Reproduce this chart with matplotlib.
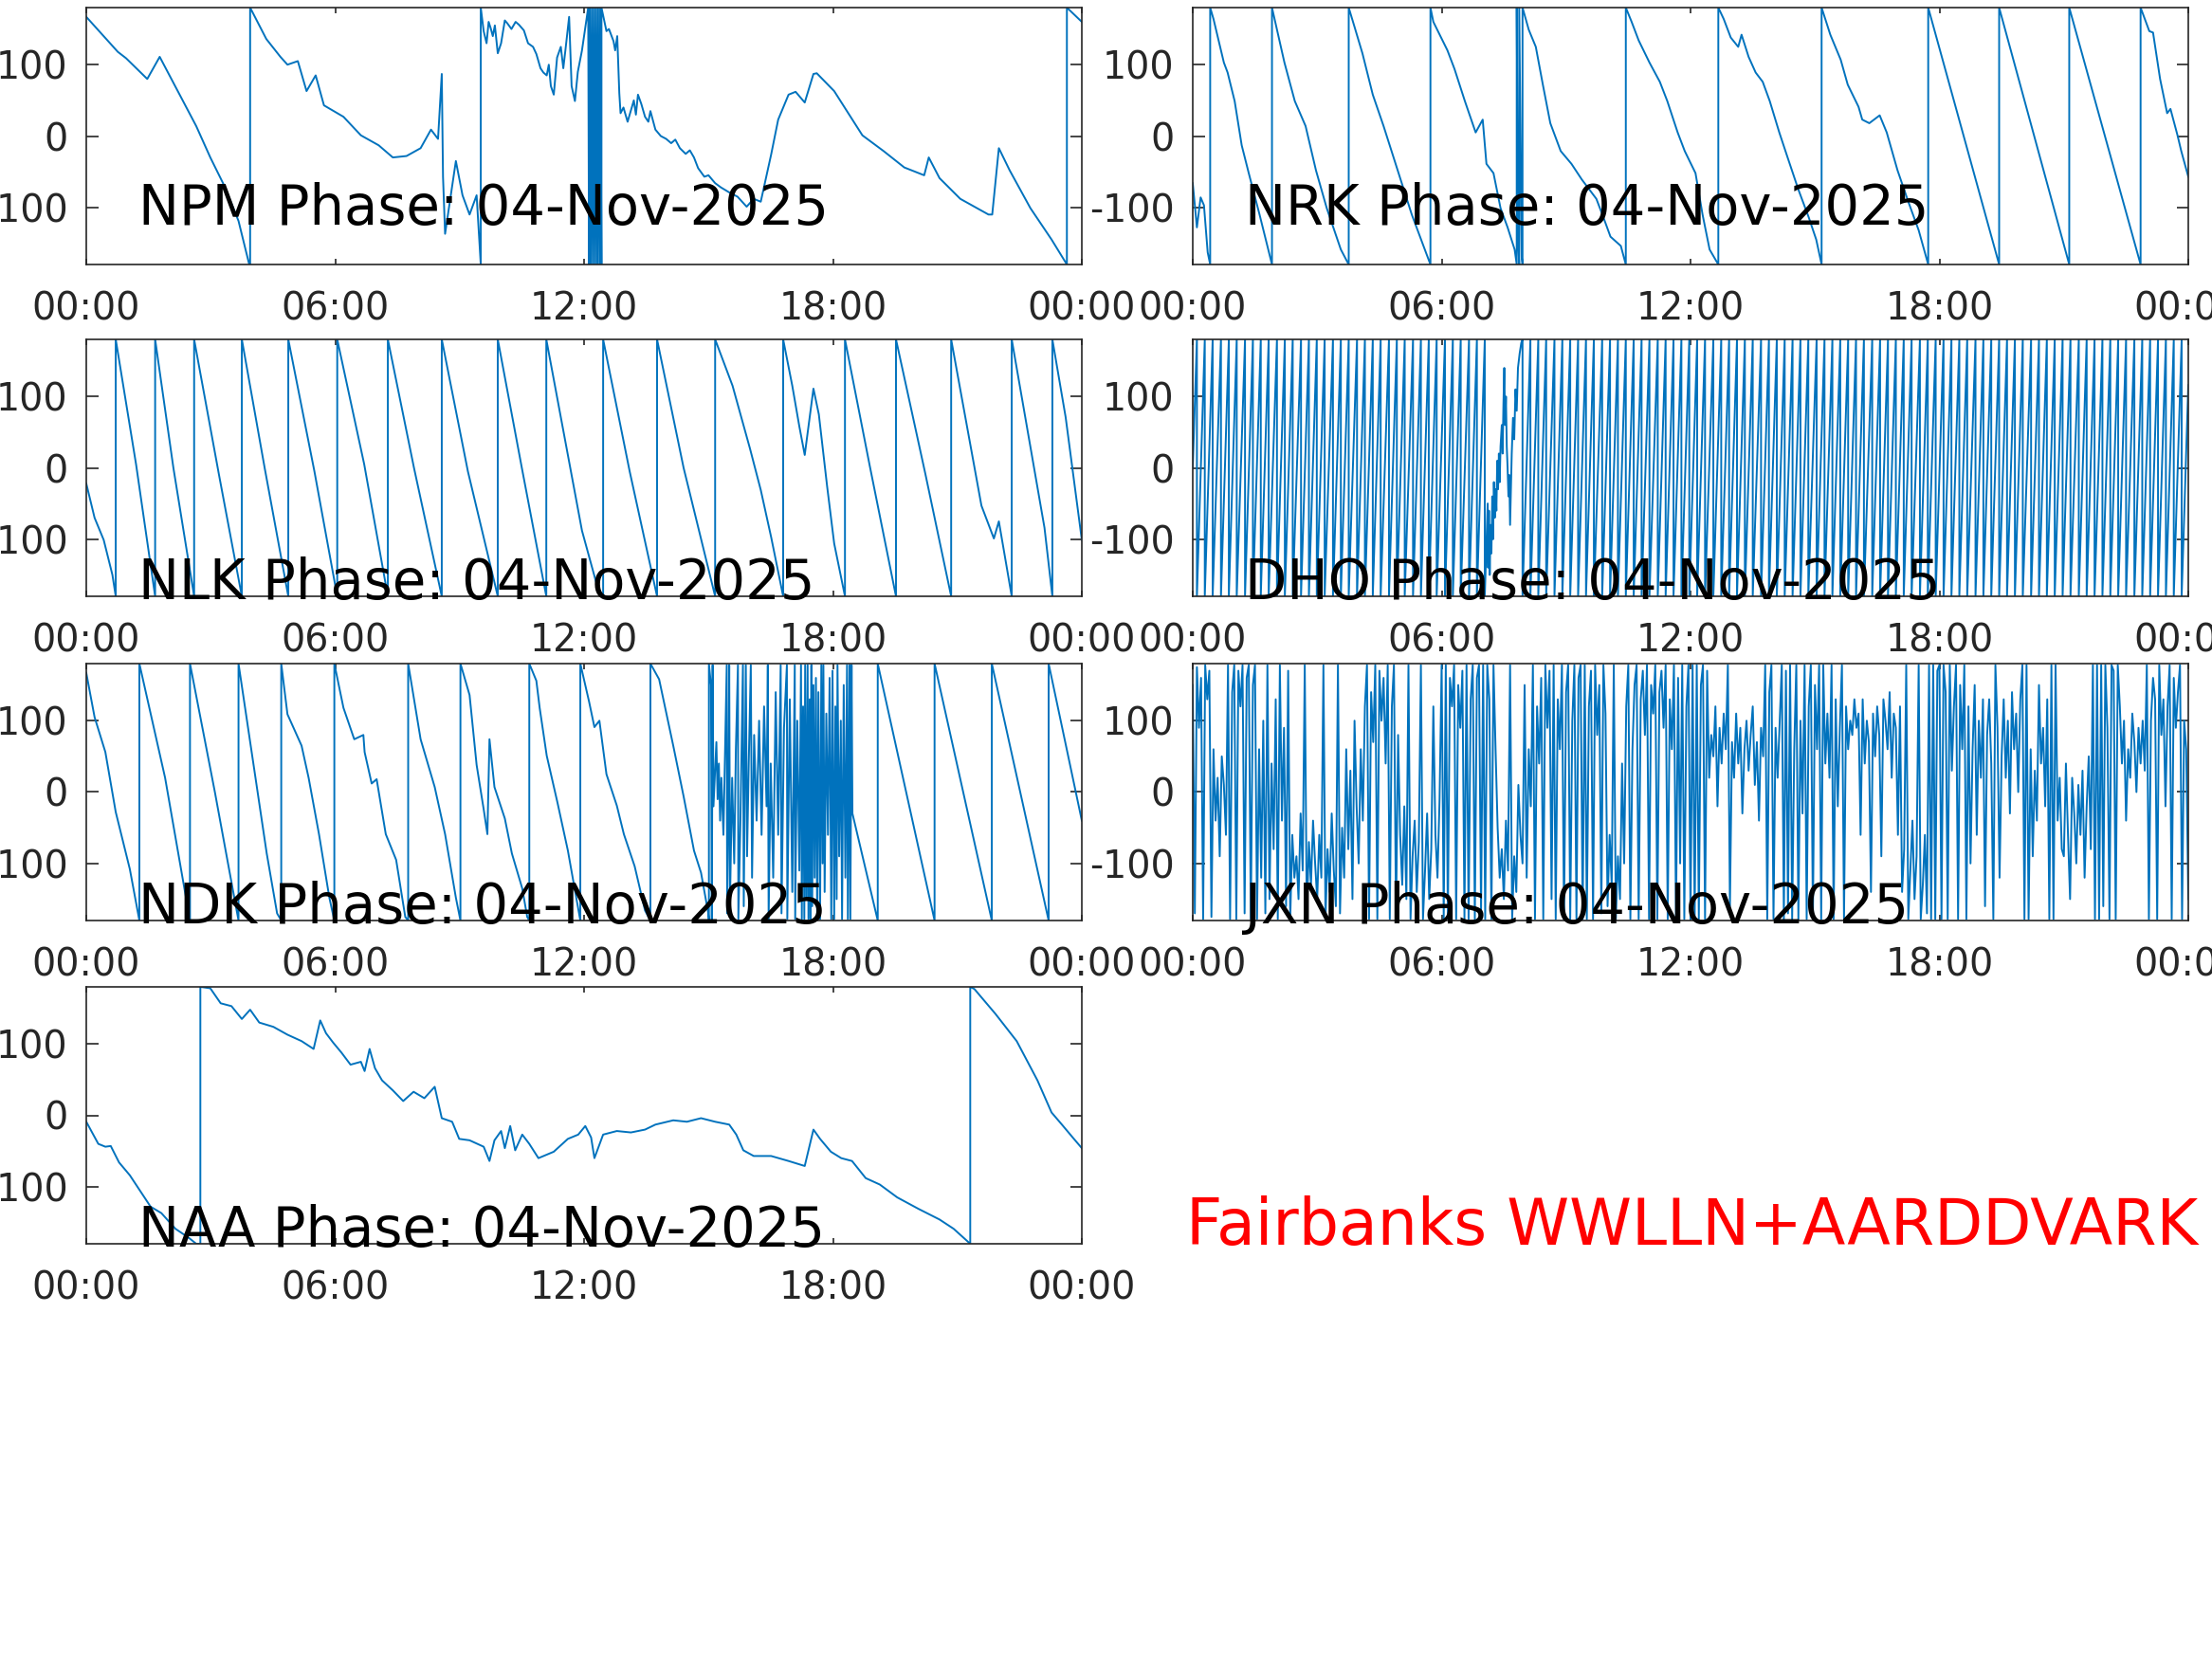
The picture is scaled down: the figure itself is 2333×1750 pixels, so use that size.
import numpy as np
import matplotlib.pyplot as plt

plt.rcParams['axes.unicode_minus'] = False

# time in hours of 04-Nov-2025 UT, phase in degrees
npm_t = [0, 0.76, 0.96, 1.47, 1.77, 2.65, 2.99, 3.33, 3.67, 3.92, 3.95, 3.95, 4.34, 4.68, 4.85, 5.1, 5.31, 5.53,
         5.73, 6.2, 6.62, 7.05, 7.39, 7.72, 8.06, 8.31, 8.48, 8.57, 8.6, 8.65, 8.91, 9.07, 9.24, 9.41, 9.51, 9.51,
         9.58, 9.65, 9.70, 9.75, 9.80, 9.85, 9.92, 10.0, 10.09, 10.15, 10.25, 10.35, 10.43, 10.55, 10.65, 10.77,
         10.85, 10.95, 11.02, 11.1, 11.15, 11.2, 11.27, 11.35, 11.44, 11.5, 11.55, 11.64, 11.7, 11.78, 11.85,
         11.95, 12.1, 12.12, 12.14, 12.17, 12.19, 12.22, 12.24, 12.27, 12.29, 12.32, 12.34, 12.37, 12.39, 12.42,
         12.42, 12.54, 12.6, 12.71, 12.75, 12.8, 12.85, 12.88, 12.95, 13.05, 13.13, 13.2, 13.25, 13.3, 13.38,
         13.47, 13.55, 13.6, 13.72, 13.85, 13.98, 14.1, 14.2, 14.31, 14.45, 14.55, 14.65, 14.75, 14.9, 15.0,
         15.16, 15.3, 15.5, 15.7, 15.92, 16.09, 16.26, 16.51, 16.68, 16.93, 17.1, 17.32, 17.53, 17.61, 18.03,
         18.71, 19.22, 19.72, 20.2, 20.31, 20.57, 21.07, 21.75, 21.84, 22.0, 22.26, 22.76, 23.27, 23.64, 23.64, 24]
npm_ph = [167, 118, 109, 80, 111, 14, -30, -70, -119, -178, -180, 180, 136, 111, 100, 105, 63, 85,
          43, 27, 1, -13, -30, -28, -17, 9, -4, 87, -57, -137, -35, -83, -110, -83, -180, 180,
          147, 130, 160, 151, 140, 155, 116, 130, 162, 158, 150, 160, 156, 148, 130, 125,
          115, 95, 89, 85, 100, 70, 58, 110, 125, 95, 120, 167, 70, 49, 90,
          120, 180, -180, 180, -180, 180, -180, 180, -180, 180, -180, 180, -180, 180, -180,
          180, 147, 150, 133, 120, 140, 60, 32, 40, 20, 36, 50, 30, 58, 45,
          27, 20, 35, 9, 0, -4, -10, -5, -17, -25, -20, -30, -45, -57, -55,
          -66, -72, -79, -85, -99, -88, -92, -26, 23, 58, 62, 47, 87, 88, 63,
          1, -21, -44, -55, -30, -59, -88, -110, -110, -17, -48, -101, -145, -180, 180, 160]

nrk_t = [0, 0.1, 0.19, 0.27, 0.36, 0.42, 0.42, 0.5, 0.75, 0.84, 1.01, 1.18, 1.35, 1.61, 1.91, 1.91, 2.21, 2.46,
         2.72, 2.97, 3.23, 3.57, 3.76, 3.76, 3.91, 4.09, 4.34, 4.6, 4.94, 5.28, 5.62, 5.73, 5.73, 5.8, 6.14,
         6.31, 6.56, 6.82, 6.99, 7.08, 7.25, 7.42, 7.59, 7.76, 7.81, 7.81, 7.84, 7.87, 7.87, 7.93, 7.95, 7.95,
         8.1, 8.27, 8.44, 8.62, 8.87, 9.13, 9.38, 9.73, 9.9, 10.07, 10.32, 10.44, 10.44, 10.58, 10.75, 11.01,
         11.26, 11.44, 11.69, 11.86, 12.12, 12.29, 12.46, 12.67, 12.67, 12.8, 12.97, 13.15, 13.23, 13.4, 13.57,
         13.74, 13.91, 14.14, 14.34, 14.6, 14.85, 15.03, 15.16, 15.16, 15.37, 15.62, 15.79, 16.05, 16.14, 16.31,
         16.56, 16.73, 16.99, 17.25, 17.5, 17.73, 17.73, 19.44, 19.44, 21.13, 21.13, 22.85, 22.85, 23.06, 23.15,
         23.32, 23.49, 23.57, 23.74, 23.83, 24]
nrk_ph = [-66, -128, -86, -97, -163, -180, 180, 164, 103, 89, 49, -13, -52, -110, -180, 180, 103, 49,
          14, -48, -101, -159, -180, 180, 151, 116, 58, 14, -48, -110, -163, -180, 180, 160, 120,
          94, 49, 5, 23, -39, -52, -101, -128, -159, -180, 180, -140, -180, 180, -170, -180, 180,
          149, 125, 72, 18, -21, -39, -61, -88, -114, -141, -154, -180, 180, 160, 134, 103,
          76, 49, 5, -21, -52, -110, -159, -180, 180, 164, 138, 125, 142, 111, 89,
          76, 49, 5, -30, -75, -114, -145, -180, 180, 142, 107, 72, 41, 23, 18,
          29, 5, -48, -92, -132, -180, 180, -180, 180, -180, 180, -180, 180, 147, 145,
          80, 32, 38, 1, -21, -57]

nlk_t = [0, 0.2, 0.42, 0.63, 0.71, 0.71, 1.2, 1.66, 1.66, 2.1, 2.6, 2.6, 3.2, 3.75, 3.75, 4.3, 4.87, 4.87,
         5.5, 6.05, 6.05, 6.7, 7.27, 7.27, 7.9, 8.57, 8.57, 9.2, 9.92, 9.92, 10.5, 11.09, 11.09, 11.95, 12.37,
         12.46, 12.46, 13.1, 13.76, 13.76, 14.4, 15.16, 15.16, 15.58, 16.0, 16.26, 16.51, 16.8, 16.8, 17.02,
         17.19, 17.32, 17.53, 17.66, 17.86, 18.03, 18.29, 18.29, 18.88, 19.52, 19.52, 20.23, 20.85, 20.85,
         21.58, 21.88, 22.0, 22.31, 22.31, 23.1, 23.29, 23.29, 23.61, 24]
nlk_ph = [-22, -70, -101, -150, -180, 180, 5, -180, 180, 0, -180, 180, -10, -180, 180, 0, -180, 180,
          -5, -180, 180, 5, -180, 180, 0, -180, 180, -5, -180, 180, 0, -180, 180, -88, -177,
          -180, 180, -5, -180, 180, 0, -180, 180, 115, 27, -31, -97, -180, 180, 115,
          58, 18, 111, 75, -26, -106, -180, 180, 5, -180, 180, -9, -180, 180,
          -53, -99, -75, -180, 180, -84, -180, 180, 71, -101]

# DHO: times of the +180 -> -180 wraps, and the noisy stretch without a clean carrier
dho_wraps_a = [0.10, 0.29, 0.48, 0.68, 0.87, 1.06, 1.26, 1.45, 1.64, 1.83, 2.03, 2.22, 2.41, 2.61, 2.80,
               2.99, 3.18, 3.38, 3.57, 3.76, 3.96, 4.15, 4.34, 4.53, 4.73, 4.92, 5.11, 5.31, 5.50, 5.69,
               5.88, 6.08, 6.27, 6.46, 6.66, 6.85, 7.04]
dho_gap_t = [7.11, 7.12, 7.14, 7.16, 7.18, 7.20, 7.22, 7.24, 7.26, 7.28, 7.30, 7.32, 7.34, 7.36, 7.38, 7.40,
             7.42, 7.45, 7.47, 7.49, 7.51, 7.53, 7.55, 7.57, 7.59, 7.61, 7.63, 7.65, 7.67, 7.69, 7.72, 7.75,
             7.78, 7.81, 7.84, 7.88, 7.92]
dho_gap_ph = [-50, -140, -60, -150, -80, -120, -40, -100, -20, -70, -30, -60, 10, -30, 20, -20,
              30, 60, 20, 90, 140, 60, 100, 30, 0, -40, -10, -80, -30, 20, 70, 40,
              110, 80, 140, 160, 175]
dho_wraps_b = [7.95, 8.14, 8.33, 8.52, 8.72, 8.91, 9.10, 9.29, 9.48, 9.67, 9.87, 10.06, 10.25, 10.44, 10.63,
               10.82, 11.01, 11.21, 11.40, 11.59, 11.78, 11.97, 12.16, 12.35, 12.55, 12.74, 12.93, 13.12,
               13.31, 13.50, 13.70, 13.89, 14.08, 14.27, 14.46, 14.65, 14.84, 15.04, 15.23, 15.42, 15.61,
               15.80, 15.99, 16.18, 16.38, 16.57, 16.76, 16.95, 17.14, 17.33, 17.53, 17.72, 17.91, 18.10,
               18.29, 18.48, 18.67, 18.87, 19.06, 19.25, 19.44, 19.63, 19.82, 20.01, 20.21, 20.40, 20.59,
               20.78, 20.97, 21.16, 21.36, 21.55, 21.74, 21.93, 22.12, 22.31, 22.50, 22.70, 22.89, 23.08,
               23.27, 23.46, 23.65, 23.84]
dho_start, dho_end = 0, 116

ndk_t = [0, 0.2, 0.46, 0.71, 1.05, 1.28, 1.28, 1.9, 2.5, 2.5, 3.1, 3.67, 3.67, 4.35, 4.6, 4.7, 4.7, 4.85,
         5.19, 5.36, 5.61, 5.86, 5.98, 5.98, 6.2, 6.46, 6.68, 6.71, 6.88, 7.0, 7.22, 7.47, 7.69, 7.76, 7.76,
         8.06, 8.4, 8.65, 8.91, 9.02, 9.02, 9.24, 9.41, 9.58, 9.67, 9.72, 9.84, 10.09, 10.26, 10.51, 10.63,
         10.68, 10.68, 10.85, 10.93, 11.1, 11.36, 11.61, 11.91, 11.91, 12.12, 12.25, 12.37, 12.54, 12.79,
         12.96, 13.22, 13.47, 13.6, 13.6, 13.81, 14.15, 14.4, 14.65, 14.82, 14.99, 15.01, 15.01, 15.06, 15.08,
         15.10, 15.12, 15.16, 15.19, 15.22, 15.25, 15.28, 15.31, 15.36, 15.40, 15.44, 15.45, 15.48, 15.5,
         15.52, 15.57, 15.62, 15.66, 15.71, 15.72, 15.77, 15.83, 15.85, 15.9, 15.93, 15.97, 16.02, 16.05,
         16.1, 16.16, 16.22, 16.28, 16.34, 16.40, 16.43, 16.45, 16.5, 16.56, 16.62, 16.68, 16.74, 16.76,
         16.82, 16.89, 16.9, 16.96, 17.02, 17.08, 17.09, 17.14, 17.19, 17.23, 17.25, 17.28, 17.31, 17.33,
         17.36, 17.39, 17.41, 17.44, 17.46, 17.48, 17.5, 17.53, 17.56, 17.59, 17.62, 17.65, 17.69, 17.72,
         17.75, 17.77, 17.8, 17.84, 17.88, 17.92, 17.96, 17.99, 18.03, 18.06, 18.09, 18.11, 18.15, 18.19,
         18.22, 18.26, 18.3, 18.34, 18.36, 18.4, 18.42, 18.45, 18.47, 19.08, 19.08, 20.45, 20.45, 21.83,
         21.83, 23.2, 23.2, 24]
ndk_ph = [167, 105, 56, -28, -108, -180, 180, 20, -180, 180, 0, -180, 180, -86, -170, -180, 180, 109,
          65, 20, -59, -148, -180, 180, 118, 74, 80, 56, 12, 18, -59, -95, -175, -180, 180,
          74, 7, -59, -148, -180, 180, 136, 38, -24, -59, 74, 7, -37, -86, -135, -175,
          -180, 180, 156, 118, 51, -15, -82, -180, 180, 127, 91, 100, 25, -19,
          -59, -104, -166, -180, 180, 158, 65, -6, -82, -113, -168, -180, 180, 150, -180,
          178, -20, 30, 70, -10, 40, -40, 20, -60, 60, 178, -170, -30, 178,
          -150, 20, -100, 60, 178, -178, -40, 178, -160, 178, -90, 40, 178, -120,
          80, -40, 100, -60, 120, -20, 178, -178, 40, -120, 140, -60, 178, -170,
          90, 178, -178, 130, -140, 178, -178, 100, -110, 178, -178, 120, -178, 178,
          -150, 178, -178, 130, -178, 178, -160, 150, -120, 160, -178, 140, -178, 178,
          -100, 178, -140, 110, -60, 160, -178, 170, -178, 120, -150, 178, -90, 100,
          -178, 150, -120, 178, -178, 178, -178, 178, -30, -180, 180, -180, 180, -180,
          180, -180, 180, -40]

# JXN: phase every 3 minutes from 00:00 to 24:00 (one row per hour)
jxn_ph = [150, -170, 175, 90, 160, -178, 178, 130, 170, -175, 60, -40, 20, -90, 50, 10, -60, 178, -178, 140,
          178, -178, 170, 120, 178, -170, 160, 178, -178, 150, 178, -178, 60, -120, 100, -170, 178, -150, 40, -80,
          130, -178, 178, -40, 90, -160, 170, -178, -60, -120, -90, -150, -30, -110, 178, -178, -70, -130, -40, -100,
          -150, -60, -120, 178, -178, -80, -140, -30, -110, -160, 178, -170, -50, -120, 60, -80, 30, -150, 100, -20,
          -100, 60, -40, 120, 178, -178, 140, 70, 178, -178, 170, 100, 160, 40, 178, -178, 120, 178, -178, 80,
          -60, -130, -20, -150, 178, -178, -90, -40, -140, -70, 178, -178, -110, -30, -150, -80, 120, -60, -120, -10,
          178, -178, 178, -178, 160, 120, 178, -178, 150, 90, 170, -178, 178, -178, 130, 178, -178, 160, 178, -170,
          178, -178, 178, 130, -178, 178, 60, -50, -120, -80, -150, -40, -110, 178, -178, -90, -140, 10, -60, -100,
          150, -120, 60, -20, 178, -178, 120, 40, 160, -178, 178, 90, 170, -150, 178, -178, 130, 60, 178, -178,
          140, 178, -178, 100, 178, -178, 160, 178, -178, 178, -178, 120, 170, -178, 178, 80, 150, -170, 178, 110,
          -160, -60, -130, 178, -178, -90, -150, 40, -100, 120, 178, -178, 60, 150, 178, -178, 130, 170, 80, 178,
          -178, 150, 110, 178, -178, 140, 170, 90, 178, -178, 130, 60, 178, -178, 160, -100, 178, -178, 120, 178,
          -178, 178, -178, 178, -178, 150, 178, -178, 170, 20, 80, 50, 120, -20, 90, 40, 110, 60, 178, -160,
          70, 20, 110, 40, 90, -30, 60, 100, 30, 80, 120, 10, 70, -40, 90, 50, 178, -178, 140, 178,
          -178, 90, 20, 100, 178, -178, 170, -170, 178, -178, 60, 178, -178, 100, -30, 178, -178, 120, 178, -178,
          150, 60, 178, -178, 178, 40, 110, 20, 178, -178, 130, -20, 90, 178, -178, 120, 60, 100, 80, 130,
          90, 110, -60, 130, 40, 100, 70, -140, 110, 50, 120, 80, -90, 130, 100, 60, 140, 20, 110, 90,
          -60, 120, -140, -80, 178, -178, -110, -40, -150, -90, 178, -178, -130, -60, -170, 178, -178, 178, -178, 170,
          178, -178, 178, 140, -178, 178, 30, 120, 178, -178, 150, 60, 178, -178, 120, -100, 60, 150, -60, 100,
          20, 130, -160, 80, 130, 40, -178, 178, 90, -120, 50, 130, 20, 100, -30, 140, 60, 110, 0, 130,
          178, -178, 178, -178, 60, -90, 30, -40, 150, 40, 90, -20, 130, -178, 178, -178, 178, -40, 20, -80,
          -90, 40, -60, -150, 20, -30, -100, 10, -60, 30, -120, -20, 50, -80, 178, -178, 178, -178, 178, -160,
          178, 90, -178, 178, 170, -178, 178, 120, 40, 100, -40, 60, 20, 110, 70, 0, 90, 40, 100, 30,
          178, -178, 100, 160, 130, -178, 178, 80, 130, -20, 120, 178, -178, 160, 90, 140, 178, -178, 100, 60,
          -150]
jxn_t = np.arange(len(jxn_ph)) * 0.05

naa_t = [0, 0.29, 0.46, 0.59, 0.79, 1.05, 1.3, 1.55, 1.81, 2.15, 2.48, 2.65, 2.75, 2.75, 2.99, 3.24, 3.5,
         3.75, 3.95, 4.17, 4.51, 4.85, 5.19, 5.48, 5.64, 5.78, 5.95, 6.15, 6.37, 6.62, 6.71, 6.83, 6.96,
         7.13, 7.39, 7.64, 7.89, 8.15, 8.4, 8.57, 8.82, 8.99, 9.24, 9.58, 9.72, 9.84, 10.0, 10.09, 10.22,
         10.34, 10.51, 10.68, 10.9, 11.27, 11.61, 11.86, 12.03, 12.17, 12.25, 12.46, 12.79, 13.13, 13.47,
         13.72, 14.15, 14.48, 14.82, 15.16, 15.5, 15.67, 15.84, 16.09, 16.51, 16.93, 17.32, 17.53, 17.69,
         17.95, 18.2, 18.46, 18.79, 19.13, 19.55, 20.06, 20.57, 20.91, 21.31, 21.31, 21.41, 21.92, 22.43,
         22.93, 23.27, 23.52, 23.78, 24]
naa_ph = [-9, -40, -44, -43, -66, -84, -106, -128, -137, -159, -172, -180, -180, 180, 178, 157, 153,
          135, 148, 130, 124, 113, 104, 93, 133, 115, 102, 88, 71, 75, 62, 93, 66,
          49, 35, 20, 33, 24, 40, -4, -9, -33, -35, -44, -64, -35, -22, -46, -15,
          -49, -27, -40, -60, -51, -33, -27, -15, -31, -60, -27, -22, -24, -20,
          -13, -7, -9, -4, -9, -13, -27, -49, -57, -57, -64, -71, -20, -33,
          -51, -60, -64, -88, -97, -115, -131, -146, -159, -180, 180, 177, 142, 104,
          49, 4, -13, -31, -46]

# assemble DHO from its wrap times
dho_t, dho_ph = [0], [dho_start]
for w in dho_wraps_a:
    dho_t += [w, w]
    dho_ph += [180, -180]
dho_t += dho_gap_t
dho_ph += dho_gap_ph
for w in dho_wraps_b:
    dho_t += [w, w]
    dho_ph += [180, -180]
dho_t.append(24)
dho_ph.append(dho_end)

panels = [
    ('NPM', npm_t, npm_ph),
    ('NRK', nrk_t, nrk_ph),
    ('NLK', nlk_t, nlk_ph),
    ('DHO', dho_t, dho_ph),
    ('NDK', ndk_t, ndk_ph),
    ('JXN', jxn_t, jxn_ph),
    ('NAA', naa_t, naa_ph),
]

W, H = 2333, 1750
fig = plt.figure(figsize=(W / 100, H / 100), dpi=100)

col_x = [91 / W, 1258 / W]
row_bottom = [1 - 279 / H, 1 - 629 / H, 1 - 971 / H, 1 - 1312 / H]
ax_w, ax_h = 1050 / W, 271 / H
label_y = [0.155, -0.011, -0.011, -0.011]

dark = '#262626'
for i, (name, t, ph) in enumerate(panels):
    r, c = divmod(i, 2)
    ax = fig.add_axes([col_x[c], row_bottom[r], ax_w, ax_h])
    ax.plot(t, ph, color='#0072BD', lw=1.4)
    ax.set_xlim(0, 24)
    ax.set_ylim(-180, 180)
    ax.set_xticks([0, 6, 12, 18, 24])
    ax.set_xticklabels(['00:00', '06:00', '12:00', '18:00', '00:00'])
    ax.set_yticks([-100, 0, 100])
    ax.tick_params(axis='both', direction='in', top=True, right=True, colors=dark,
                   labelsize=28.5, width=1.2)
    ax.tick_params(axis='x', length=4.5, pad=20)
    ax.tick_params(axis='y', length=9, pad=14)
    for s in ax.spines.values():
        s.set_color(dark)
        s.set_linewidth(1.2)
    ax.text(0.052, label_y[r], name + ' Phase: 04-Nov-2025', transform=ax.transAxes,
            fontsize=41.5, color='black', va='baseline', ha='left', clip_on=False, zorder=5)

fig.text(1251 / W, 1 - 1313 / H, 'Fairbanks WWLLN+AARDDVARK', color='red', fontsize=48,
         va='baseline', ha='left')

fig.savefig('out.png', dpi=100)
